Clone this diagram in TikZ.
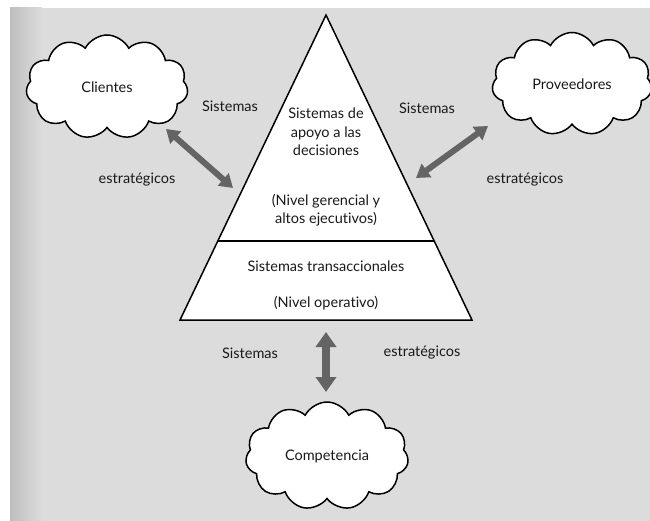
\documentclass[tikz,border=0pt]{standalone}
\usepackage{fontspec}
\setmainfont{Lato}[Ligatures={NoCommon,NoRare,NoDiscretionary}]
\usetikzlibrary{shapes.symbols,arrows.meta,calc}
\definecolor{paper}{RGB}{220,220,220}
\definecolor{paperdark}{RGB}{190,190,190}
\definecolor{arrowgray}{RGB}{100,100,100}
\definecolor{ink}{RGB}{25,25,25}
\begin{document}
\begin{tikzpicture}[x=1pt,y=-1pt,
  cloudbox/.style={cloud, cloud puffs=11, cloud puff arc=125, cloud ignores aspect, draw=black, line width=1.5pt, fill=white, text=ink, font=\fontsize{14.5}{16}\selectfont, inner sep=0pt},
  lbl/.style={text=ink, font=\fontsize{14.5}{16}\selectfont, inner sep=0pt},
  tri/.style={text=ink, font=\fontsize{14.5}{18.5}\selectfont, inner sep=0pt, align=center},
  edgeline/.style={draw=black, line width=1.5pt},
  diagarrow/.style={draw=arrowgray, line width=6pt, {Triangle[width=16pt,length=13pt]}-{Triangle[width=16pt,length=13pt]}},
  vertarrow/.style={draw=arrowgray, line width=8pt, {Triangle[width=20pt,length=15pt]}-{Triangle[width=20pt,length=15pt]}},
]
\clip (0,0) rectangle (650,521);
% paper
\fill[white] (0,0) rectangle (650,521);
\fill[paper] (10,8) rectangle (650,521);
\shade[left color=paperdark, right color=paper] (10,8) rectangle (42,521);

% pyramid
\coordinate (apex) at (326,15);
\coordinate (bl) at (180,320);
\coordinate (br) at (472,320);
\draw[edgeline, fill=white, line join=miter] (apex) -- (bl) -- (br) -- cycle;
\coordinate (dl) at ($(apex)!0.741!(bl)$);
\coordinate (dr) at ($(apex)!0.741!(br)$);
\draw[edgeline] (dl) -- (dr);

\node[tri] (dss) at (326,132) {Sistemas de\\apoyo a las\\decisiones};
\node[tri] (dsslevel) at (326,210) {(Nivel gerencial y\\altos ejecutivos)};
\node[tri] (tps) at (326,266) {Sistemas transaccionales};
\node[tri] (tpslevel) at (326,303) {(Nivel operativo)};

% clouds
\node[cloudbox, minimum width=162pt, minimum height=104pt] (clientes) at (107,87) {Clientes};
\node[cloudbox, minimum width=160pt, minimum height=103pt] (proveedores) at (572,84) {Proveedores};
\node[cloudbox, minimum width=163pt, minimum height=108pt] (competencia) at (327,456) {Competencia};

% arrow ends
\coordinate (cliA) at (166,129);
\coordinate (cliB) at (233,188);
\coordinate (proA) at (488,126);
\coordinate (proB) at (416,178);
\coordinate (comA) at (326,332);
\coordinate (comB) at (326,392);
\draw[diagarrow] (cliA) -- (cliB);
\draw[diagarrow] (proA) -- (proB);
\draw[vertarrow] (comA) -- (comB);

% labels
\node[lbl] (s1) at (230,106) {Sistemas};
\node[lbl] (e1) at (137,180) {estratégicos};
\node[lbl] (s2) at (427,108) {Sistemas};
\node[lbl] (e2) at (525,180) {estratégicos};
\node[lbl] (s3) at (250,353) {Sistemas};
\node[lbl] (e3) at (422,353) {estratégicos};
\end{tikzpicture}
\end{document}
